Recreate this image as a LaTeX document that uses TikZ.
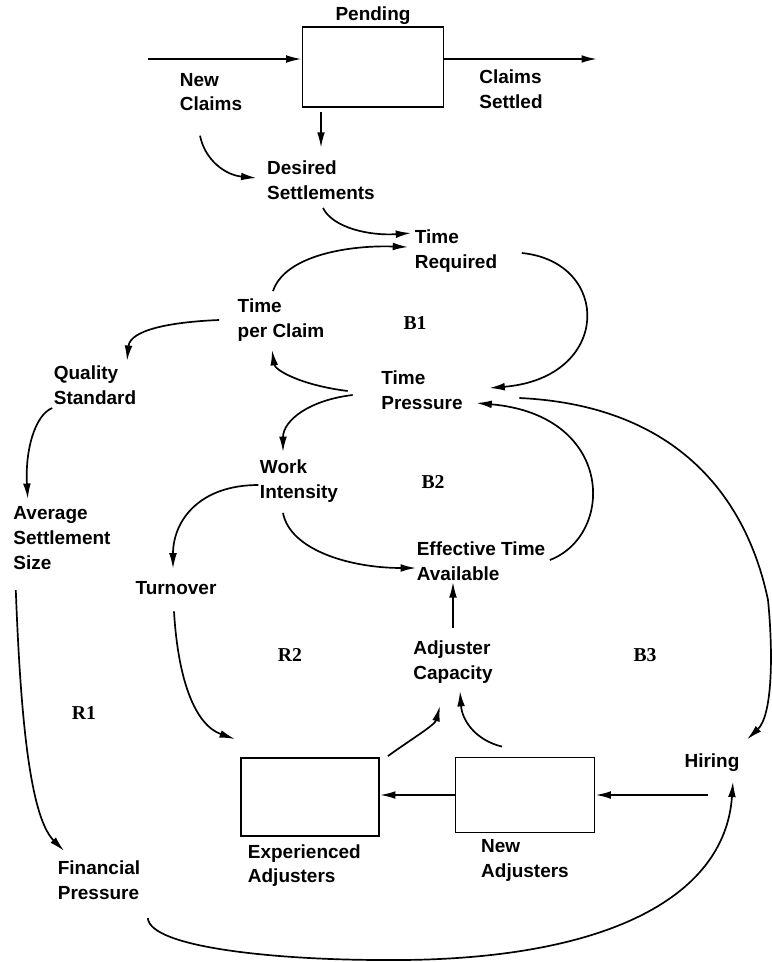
\documentclass[tikz,border=0pt]{standalone}
\usepackage{fontspec}
\setmainfont{Liberation Sans}
\newfontfamily\loopfont{Liberation Serif}
\usetikzlibrary{arrows.meta, positioning}
\tikzstyle{stock} = [rectangle, draw=black, line width=1.3pt, inner sep=0pt]
\tikzstyle{txt} = [align=left, inner sep=1pt, font=\fontsize{13.5}{17.6}\selectfont\bfseries]
\tikzstyle{loopname} = [inner sep=1pt, font=\loopfont\fontsize{14}{16}\selectfont\bfseries]
\tikzstyle{arrow} = [line width=1.2pt, -{Latex[length=11pt,width=5.5pt]}]
\tikzstyle{flow} = [line width=1.3pt, -{Latex[length=11pt,width=5.5pt]}]

\begin{document}
\begin{tikzpicture}[x=0.025cm, y=-0.025cm]
	\useasboundingbox (0,0) rectangle (771,962);
	% stocks
	\node (pending) [stock, minimum width=3.525cm, minimum height=2cm] at (373,67) {};
	\node (pendlbl) [txt, above=0pt of pending] {Pending};
	\node (expbox) [stock, minimum width=3.45cm, minimum height=1.95cm] at (310,797) {};
	\node (explbl) [txt, below=4pt of expbox, xshift=-4pt] {Experienced\\Adjusters};
	\node (newbox) [stock, minimum width=3.475cm, minimum height=1.875cm] at (525,795) {};
	\node (newlbl) [txt, below=3pt of newbox] {New\\Adjusters};
	% variables
	\node (newclaims) [txt] at (211,92) {New\\Claims};
	\node (settled) [txt] at (511,89) {Claims\\Settled};
	\node (desired) [txt] at (321,180) {Desired\\Settlements};
	\node (timereq) [txt] at (456,251) {Time\\Required};
	\node (timeclaim) [txt] at (281,320) {Time\\per Claim};
	\node (timepress) [txt] at (422,390) {Time\\Pressure};
	\node (quality) [txt] at (95,385) {Quality\\Standard};
	\node (average) [txt] at (62,538) {Average\\Settlement\\Size};
	\node (workint) [txt] at (299,481) {Work\\Intensity};
	\node (turnover) [txt] at (176,588) {Turnover};
	\node (effective) [txt] at (481,561) {Effective Time\\Available};
	\node (capacity) [txt] at (453,662) {Adjuster\\Capacity};
	\node (hiring) [txt] at (712,763) {Hiring};
	\node (financial) [txt] at (99,880) {Financial\\Pressure};
	% loops
	\node (b1) [loopname] at (415,323) {B1};
	\node (b2) [loopname] at (433,482) {B2};
	\node (b3) [loopname] at (645,655) {B3};
	\node (r1) [loopname] at (84,713) {R1};
	\node (r2) [loopname] at (290,655) {R2};

	% flows
	\coordinate (cloudin) at (148,59);
	\coordinate (cloudout) at (597,59);
	\draw [flow] (cloudin) -- (cloudin -| pending.west);
	\draw [flow] (cloudout -| pending.east) -- (cloudout);
	\draw [flow] (newbox.west) -- (newbox.west -| expbox.east);
	\draw [flow] ([xshift=-3pt]newbox.east -| hiring.south) -- (newbox.east);

	% links
	\draw [arrow, shorten <=3pt, shorten >=8pt] (pending.south -| desired.north) -- (desired.north);
	\draw [arrow] ([shift={(-11,23)}]newclaims.south) .. controls (205,160) and (225,175) .. ([shift={(-9,-2)}]desired.west);
	\draw [arrow] ([shift={(2,7)}]desired.south) .. controls (333,228) and (370,236) .. ([shift={(-2,5)}]timereq.north west);
	\draw [arrow] ([shift={(-8,-6)}]timeclaim.north) .. controls (285,255) and (350,245) .. ([shift={(-5,-4)}]timereq.west);
	\draw [arrow] ([shift={(23,2)}]timereq.east) .. controls (612,262) and (612,378) .. ([shift={(25,-2)}]timepress.east);
	\draw [arrow] ([shift={(-32,1)}]timepress.west) .. controls (300,385) and (275,370) .. ([shift={(-9,7)}]timeclaim.south);
	\draw [arrow] ([shift={(-17,0)}]timeclaim.west) .. controls (170,322) and (130,330) .. ([shift={(32,-3)}]quality.north);
	\draw [arrow] ([shift={(0,2)}]quality.south west) .. controls (35,415) and (25,450) .. ([shift={(16,-6)}]average.north west);
	\draw [arrow] ([shift={(4,19)}]average.south west) .. controls (20,700) and (28,815) .. ([shift={(8,-8)}]financial.north west);
	\draw [arrow] ([shift={(6,17)}]financial.south east) .. controls (150,948) and (280,960) .. (383,960) .. controls (600,962) and (725,900) .. ([shift={(21,8)}]hiring.south);
	\draw [arrow] ([shift={(55,8)}]timepress.east) .. controls (670,405) and (745,490) .. (768,600) .. controls (773,650) and (773,715) .. ([shift={(35,-13)}]hiring.north);
	\draw [arrow] ([shift={(-27,5)}]timepress.west) .. controls (310,400) and (283,420) .. ([shift={(-16,-6)}]workint.north);
	\draw [arrow] ([shift={(3,-1)}]effective.east) .. controls (615,535) and (615,415) .. ([shift={(12,13)}]timepress.east);
	\draw [arrow] ([shift={(-16,9)}]workint.south) .. controls (290,550) and (350,568) .. ([shift={(1,7)}]effective.west);
	\draw [arrow] ([shift={(0,4)}]workint.west) .. controls (200,485) and (173,520) .. ([shift={(-3,-11)}]turnover.north);
	\draw [arrow] ([shift={(-2,15)}]turnover.south) .. controls (178,680) and (195,725) .. ([shift={(-5,-18)}]expbox.north west);
	\draw [arrow] ([shift={(8,-1)}]expbox.north east) .. controls (410,740) and (435,725) .. ([shift={(-13,21)}]capacity.south);
	\draw [arrow] ([shift={(-23,-10)}]newbox.north) .. controls (475,740) and (462,720) .. ([shift={(7,6)}]capacity.south);
	\draw [arrow, shorten <=8pt] (capacity.north) -- (capacity.north |- effective.south);
\end{tikzpicture}
\end{document}
